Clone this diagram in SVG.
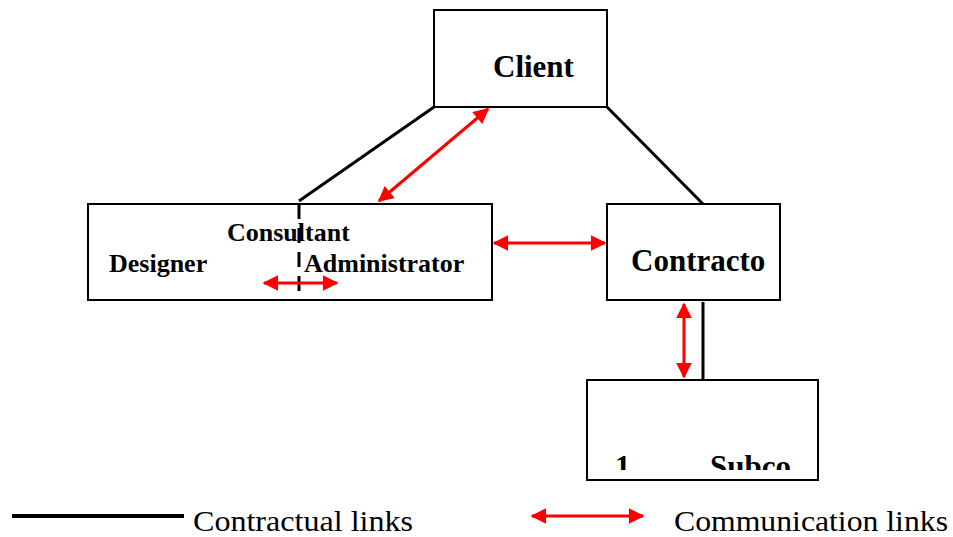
<svg xmlns="http://www.w3.org/2000/svg" width="953" height="537" viewBox="0 0 953 537">
<style>
.box{fill:#fff;stroke:#000;stroke-width:2}
.lbl{font-family:"Liberation Serif","Times New Roman",serif;font-weight:bold;fill:#000}
.big{font-size:31px}
.mid{font-size:26px}
.leg{font-family:"Liberation Serif","Times New Roman",serif;font-size:30px;fill:#000}
.con{stroke:#000;stroke-width:3;fill:none}
.com{stroke:#f00;stroke-width:3;fill:none;marker-start:url(#ah);marker-end:url(#ah)}
</style>
<defs>
<marker id="ah" viewBox="0 0 10 10" refX="9" refY="5" markerWidth="6" markerHeight="5.2" markerUnits="strokeWidth" orient="auto-start-reverse">
<path d="M0,0 L10,5 L0,10 z" fill="#f00"/>
</marker>
<clipPath id="subclip"><rect x="588" y="381" width="229" height="89"/></clipPath>
</defs>
<g id="client">
<rect class="box" x="434" y="10" width="173" height="97"/>
<text class="lbl big" x="493" y="77">Client</text>
</g>
<g id="consultant">
<rect class="box" x="88" y="204" width="404" height="96"/>
<text class="lbl mid" x="227" y="241">Consultant</text>
<text class="lbl mid" x="109" y="272">Designer</text>
<text class="lbl mid" x="304" y="272">Administrator</text>
</g>
<g id="contractor">
<rect class="box" x="607" y="204" width="173" height="96"/>
<text class="lbl big" x="631" y="271">Contracto</text>
</g>
<g id="subcontractor">
<rect class="box" x="587" y="380" width="231" height="100"/>
<g clip-path="url(#subclip)">
<text class="lbl big" x="615" y="477">1</text>
<text class="lbl big" x="710" y="477">Subco</text>
</g>
</g>
<g id="connectors">
<polyline class="con" points="434,107 299,201"/>
<line class="con" x1="299" y1="204" x2="299" y2="301" stroke-dasharray="15,9"/>
<line class="con" x1="607" y1="107" x2="703" y2="204"/>
<line class="con" x1="703" y1="302" x2="703" y2="380"/>
<line class="com" x1="488" y1="109" x2="379" y2="201"/>
<line class="com" x1="494" y1="243" x2="605" y2="243"/>
<line class="com" x1="264" y1="283" x2="337" y2="283"/>
<line class="com" x1="684" y1="304" x2="684" y2="377"/>
</g>
<g id="legend">
<line x1="12" y1="516" x2="184" y2="516" stroke="#000" stroke-width="4"/>
<text class="leg" x="193" y="531" textLength="220" lengthAdjust="spacingAndGlyphs">Contractual links</text>
<line class="com" x1="532" y1="516" x2="643" y2="516"/>
<text class="leg" x="674" y="531" textLength="274" lengthAdjust="spacingAndGlyphs">Communication links</text>
</g>
</svg>
